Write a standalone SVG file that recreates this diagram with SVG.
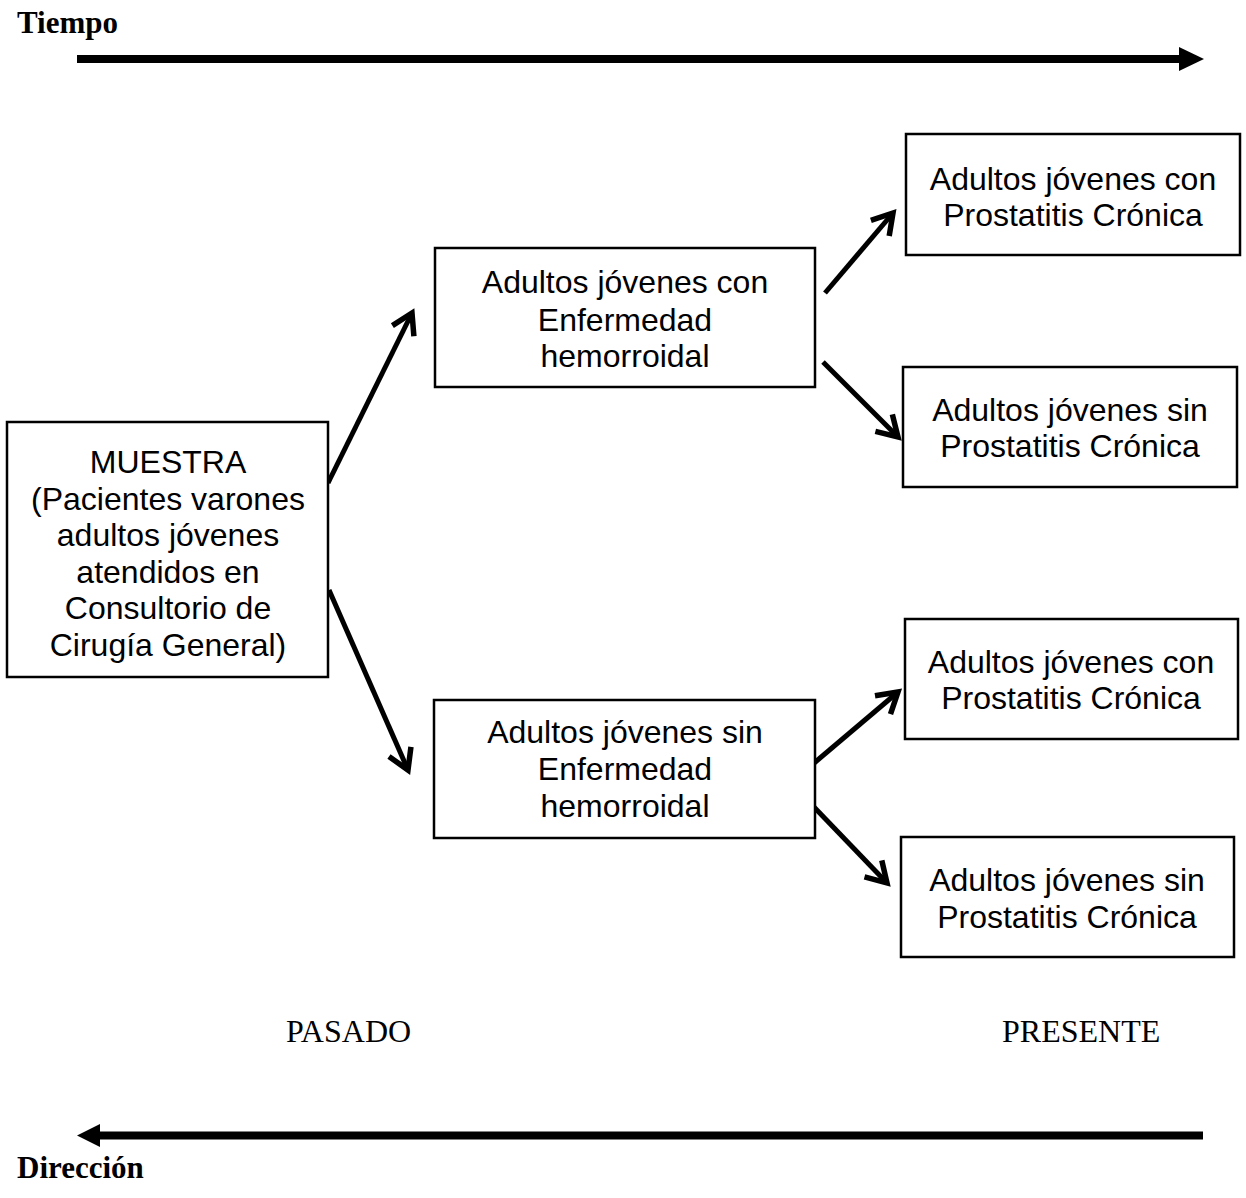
<svg xmlns="http://www.w3.org/2000/svg" width="1246" height="1198" viewBox="0 0 1246 1198">
  <style>
    .box { fill: #ffffff; stroke: #000000; stroke-width: 2.5; }
    .lbl { font-family: "Liberation Sans", Arial, sans-serif; font-size: 32px; fill: #000000; text-anchor: middle; }
    .axis-lbl { font-family: "Liberation Serif", "Times New Roman", serif; font-size: 31px; font-weight: bold; fill: #000000; }
    .time-lbl { font-family: "Liberation Serif", "Times New Roman", serif; font-size: 32px; fill: #000000; }
    .conn { fill: none; stroke: #000000; stroke-width: 5; marker-end: url(#openHead); }
    .axis { fill: none; stroke: #000000; stroke-width: 8; }
  </style>
  <defs>
    <marker id="openHead" markerUnits="userSpaceOnUse" viewBox="-26 -17 30 34" markerWidth="30" markerHeight="34" refX="0" refY="0" orient="auto" overflow="visible">
      <path d="M -20,-12 L 0,0 L -20,12" fill="none" stroke="#000000" stroke-width="5.5" stroke-linejoin="miter"/>
    </marker>
  </defs>
  <rect width="1246" height="1198" fill="#ffffff"/>

  <g id="time-axis">
    <text class="axis-lbl" x="17" y="33">Tiempo</text>
    <line class="axis" x1="77" y1="59" x2="1181" y2="59"/>
    <polygon points="1179,47 1204,59 1179,71" fill="#000000"/>
  </g>

  <g id="direction-axis">
    <line class="axis" x1="100" y1="1135.5" x2="1203" y2="1135.5"/>
    <polygon points="100,1124 77,1135.5 100,1147" fill="#000000"/>
    <text class="axis-lbl" x="17" y="1178">Dirección</text>
  </g>

  <g id="label-pasado">
    <text class="time-lbl" x="286" y="1042">PASADO</text>
  </g>
  <g id="label-presente">
    <text class="time-lbl" x="1002" y="1042">PRESENTE</text>
  </g>

  <g id="connectors">
    <path class="conn" d="M 328,483 L 412,313"/>
    <path class="conn" d="M 329,590 L 408,770"/>
    <path class="conn" d="M 825,293 L 893,213"/>
    <path class="conn" d="M 823,362 L 898,437"/>
    <path class="conn" d="M 813,764 L 898,692"/>
    <path class="conn" d="M 813,806 L 887,883"/>
  </g>

  <g id="muestra">
    <rect class="box" x="7" y="422" width="321" height="255"/>
    <text class="lbl" x="168" y="473">MUESTRA</text>
    <text class="lbl" x="168" y="509.5">(Pacientes varones</text>
    <text class="lbl" x="168" y="546">adultos jóvenes</text>
    <text class="lbl" x="168" y="582.5">atendidos en</text>
    <text class="lbl" x="168" y="619">Consultorio de</text>
    <text class="lbl" x="168" y="655.5">Cirugía General)</text>
  </g>

  <g id="con-enfermedad">
    <rect class="box" x="435" y="248" width="380" height="139"/>
    <text class="lbl" x="625" y="293">Adultos jóvenes con</text>
    <text class="lbl" x="625" y="331">Enfermedad</text>
    <text class="lbl" x="625" y="367">hemorroidal</text>
  </g>

  <g id="sin-enfermedad">
    <rect class="box" x="434" y="700" width="381" height="138"/>
    <text class="lbl" x="625" y="743">Adultos jóvenes sin</text>
    <text class="lbl" x="625" y="780">Enfermedad</text>
    <text class="lbl" x="625" y="817">hemorroidal</text>
  </g>

  <g id="ce-con-prostatitis">
    <rect class="box" x="906" y="134" width="334" height="121"/>
    <text class="lbl" x="1073" y="190">Adultos jóvenes con</text>
    <text class="lbl" x="1073" y="226">Prostatitis Crónica</text>
  </g>

  <g id="ce-sin-prostatitis">
    <rect class="box" x="903" y="367" width="334" height="120"/>
    <text class="lbl" x="1070" y="421">Adultos jóvenes sin</text>
    <text class="lbl" x="1070" y="457">Prostatitis Crónica</text>
  </g>

  <g id="se-con-prostatitis">
    <rect class="box" x="905" y="619" width="333" height="120"/>
    <text class="lbl" x="1071" y="673">Adultos jóvenes con</text>
    <text class="lbl" x="1071" y="709">Prostatitis Crónica</text>
  </g>

  <g id="se-sin-prostatitis">
    <rect class="box" x="901" y="837" width="333" height="120"/>
    <text class="lbl" x="1067" y="891">Adultos jóvenes sin</text>
    <text class="lbl" x="1067" y="928">Prostatitis Crónica</text>
  </g>
</svg>
